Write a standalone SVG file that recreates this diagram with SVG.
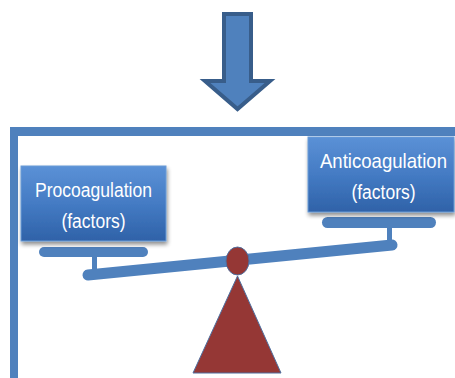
<svg xmlns="http://www.w3.org/2000/svg" width="455" height="378" viewBox="0 0 455 378">
  <defs>
    <linearGradient id="boxFill" x1="0" y1="0" x2="0" y2="1">
      <stop offset="0" stop-color="#5b91d6"/>
      <stop offset="0.5" stop-color="#447bc4"/>
      <stop offset="1" stop-color="#2f62a8"/>
    </linearGradient>
    <filter id="shadow" x="-10%" y="-10%" width="125%" height="130%">
      <feGaussianBlur in="SourceAlpha" stdDeviation="2"/>
      <feOffset dx="1" dy="3"/>
      <feComponentTransfer><feFuncA type="linear" slope="0.45"/></feComponentTransfer>
      <feMerge><feMergeNode/><feMergeNode in="SourceGraphic"/></feMerge>
    </filter>
  </defs>
  <style>
    .blue { fill: #4f81bd; }
    .box { fill: url(#boxFill); stroke: #6b9bd6; stroke-width: 1; filter: url(#shadow); }
    .label { font-family: "Liberation Sans", Arial, sans-serif; font-size: 20px; fill: #ffffff; text-anchor: middle; }
    .red { fill: #953735; stroke: #4f6f9f; stroke-width: 1; }
  </style>

  <!-- downward arrow -->
  <g id="arrow">
    <path d="M224,14 H251 V81 H270 L237.5,109 L205,81 H224 Z" fill="#4f81bd" stroke="#385d8a" stroke-width="4" stroke-linejoin="miter"/>
  </g>

  <!-- frame (left and top bars) -->
  <g id="frame">
    <rect class="blue" x="10" y="127" width="445" height="9"/>
    <rect class="blue" x="10" y="127" width="8" height="251"/>
  </g>

  <!-- beam, platforms and posts -->
  <g id="connectors">
    <line x1="88" y1="275" x2="392" y2="245" stroke="#4f81bd" stroke-width="11" stroke-linecap="round"/>
    <rect class="blue" x="92" y="254" width="5" height="20"/>
    <rect class="blue" x="387" y="226" width="5" height="18"/>
    <rect class="blue" x="39" y="247" width="109" height="10" rx="5"/>
    <rect class="blue" x="322" y="217" width="114" height="11" rx="5.5"/>
  </g>

  <!-- labels are narrowed horizontally to a condensed look -->
  <g id="procoagulation">
    <rect class="box" x="21" y="166" width="145" height="75"/>
    <text class="label" transform="translate(93.5,197) scale(0.877,1)">Procoagulation</text>
    <text class="label" transform="translate(93.5,228) scale(0.875,1)">(factors)</text>
  </g>

  <g id="anticoagulation">
    <rect class="box" x="308" y="137" width="146" height="75"/>
    <text class="label" transform="translate(383.5,168) scale(0.93,1)">Anticoagulation</text>
    <text class="label" transform="translate(383.5,199) scale(0.875,1)">(factors)</text>
  </g>

  <!-- fulcrum -->
  <g id="fulcrum">
    <polygon class="red" points="237.5,276 281,373 193,373"/>
    <ellipse class="red" cx="237.5" cy="261" rx="11.5" ry="14"/>
  </g>
</svg>
